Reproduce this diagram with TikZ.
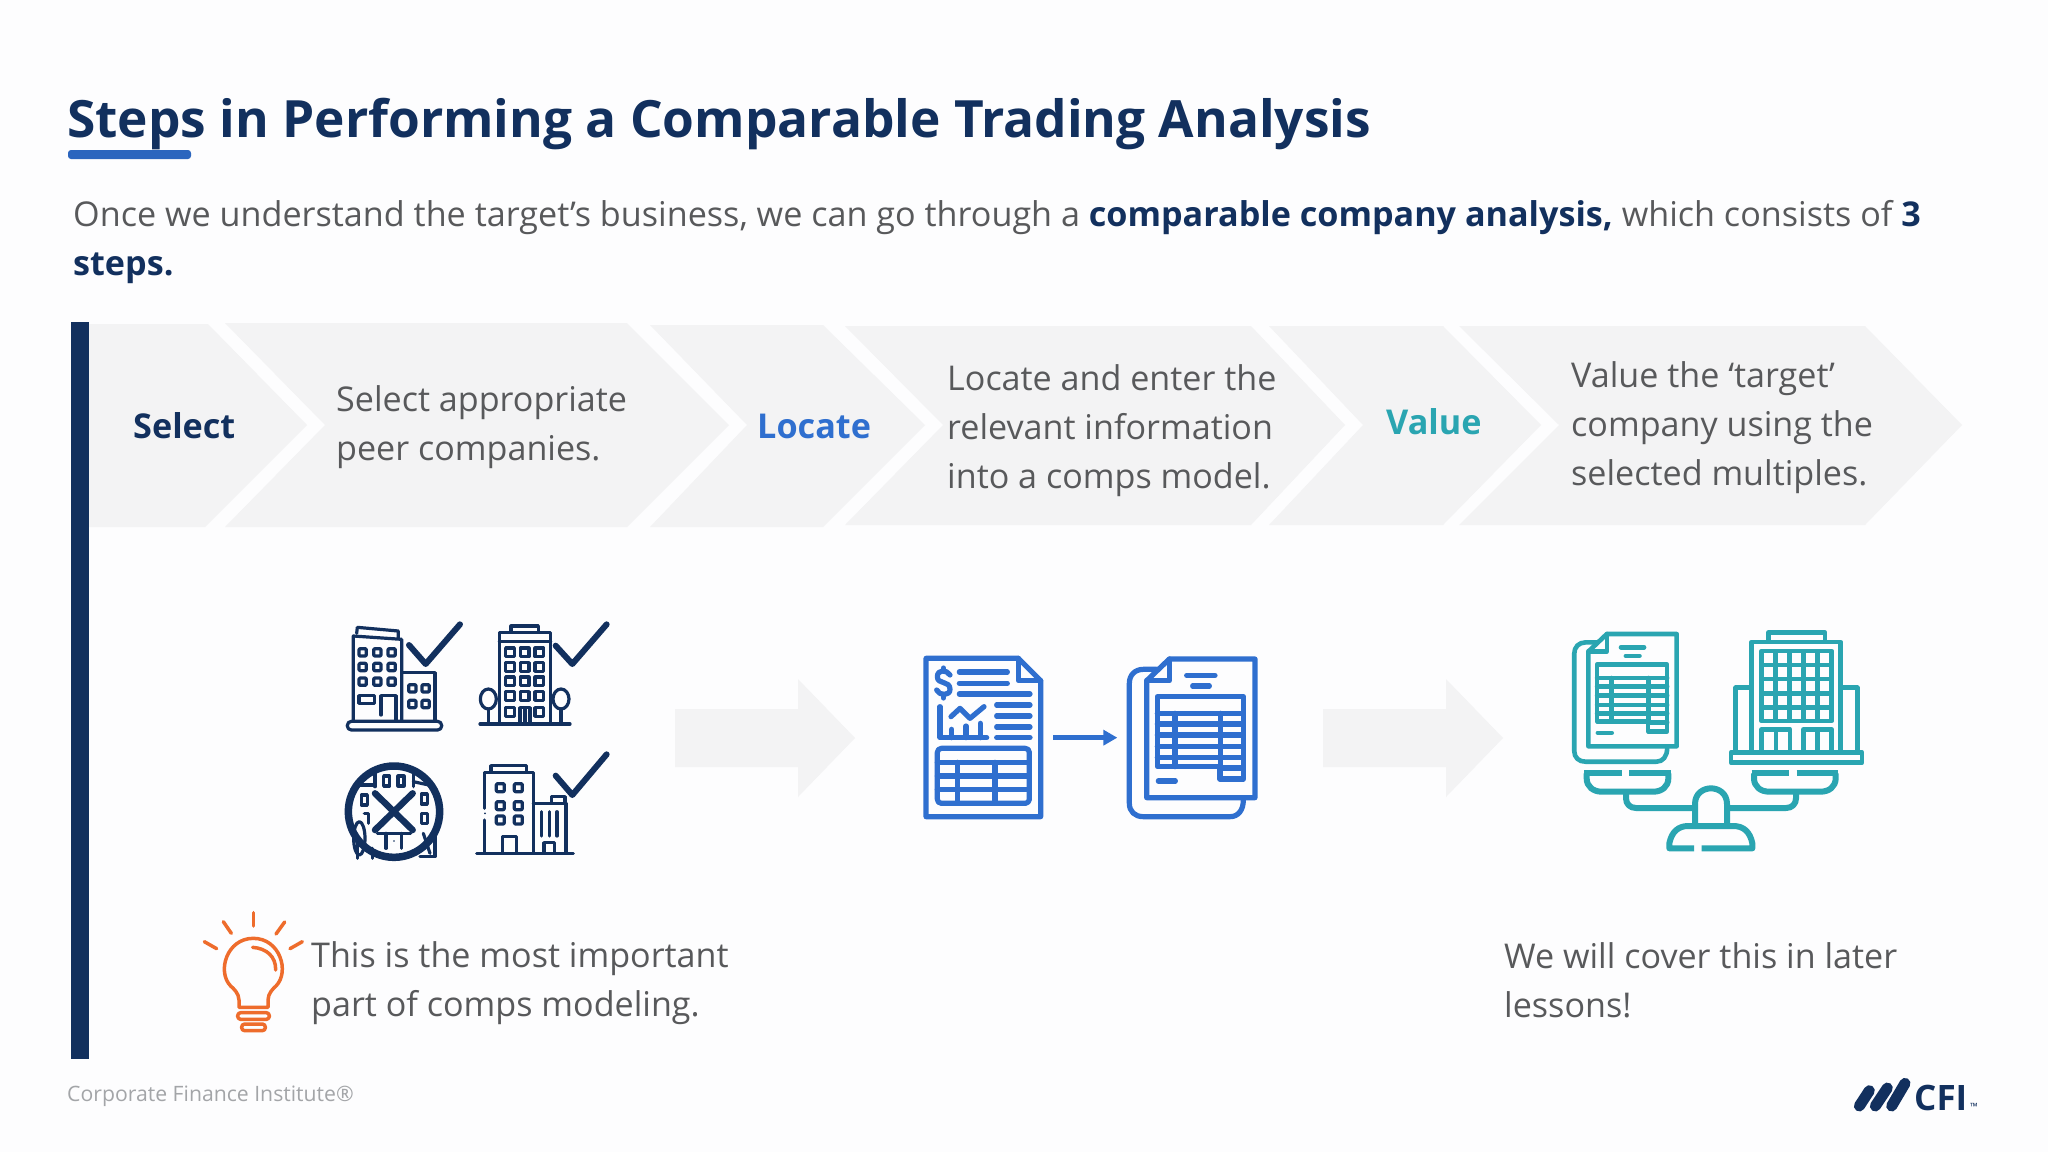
\documentclass[tikz,border=0pt]{standalone}
\usepackage{fontspec}
\setmainfont{Open Sans}
\usetikzlibrary{arrows.meta}
\definecolor{navy}{HTML}{12305E}
\definecolor{cfiblue}{HTML}{2F6FCF}
\definecolor{cfiteal}{HTML}{2AA5B1}
\definecolor{textgray}{HTML}{58595B}
\definecolor{footgray}{HTML}{A3A5A8}
\definecolor{chevgray}{HTML}{F3F3F4}
\definecolor{bulborange}{HTML}{EE6C2C}
\definecolor{pagewhite}{HTML}{FDFDFE}
\tikzset{
  body/.style={anchor=west,inner sep=0pt,align=left,text=textgray,font=\fontsize{34.1}{49}\selectfont},
  stepname/.style={anchor=base west,inner sep=0pt,font=\fontsize{34.2}{40}\selectfont\bfseries},
  icon/.style={line join=round,line cap=round}
}
\newcommand{\sheetdoc}{
  \draw (770,118) -- (730,118) .. controls (705,118) and (688,135) .. (688,160) -- (688,520)
    .. controls (688,545) and (705,560) .. (730,560) -- (990,560) .. controls (1015,560) and (1030,540) .. (1030,510);
  \draw (808,87) -- (1065,87) -- (1065,503) -- (740,503) -- (740,152) -- cycle;
  \draw (808,87) -- (808,152) -- (740,152);
  \draw (860,136) -- (945,136);
  \draw (878,168) -- (928,168);
  \draw (772,200) -- (1030,200) -- (1030,447) -- (960,447) -- (960,410) -- (772,410) -- cycle;
  \foreach \y in {250,282,315,350,382} {
    \draw (772,\y) -- (1030,\y);
  }
  \draw (960,414) -- (1030,414);
  \draw (825,250) -- (825,410);
  \draw (962,250) -- (962,410);
  \draw (775,453) -- (826,453);
}
\begin{document}
\begin{tikzpicture}[x=1pt,y=-1pt]
  \fill[pagewhite] (0,0) rectangle (2048,1152);
  \useasboundingbox (0,0) rectangle (2048,1152);

  \node[anchor=base west,inner sep=0pt,text=navy,font=\fontsize{51.4}{60}\selectfont\bfseries] (title) at (67,137)
    {Steps in Performing a Comparable Trading Analysis};
  \fill[cfiblue!85!navy,rounded corners=3pt] (68,150) rectangle (191,159);
  \node[anchor=west,inner sep=0pt,align=left,text=textgray,font=\fontsize{34.15}{49.5}\selectfont] (intro) at (73,242)
    {Once we understand the target’s business, we can go through a \textcolor{navy}{\bfseries comparable company analysis,} which consists of \textcolor{navy}{\bfseries 3}\\
     \textcolor{navy}{\bfseries steps.}};

  % chevrons
  \foreach \a/\b/\c/\d/\t/\u in {
    225/325/627/729/323/527,
    650/747/823/925/325/527,
    845/943/1251/1345/326/525,
    1269/1363/1443/1541/326/525,
    1459/1559/1865/1962/326/525} {
    \fill[chevgray] (\a,\t) -- (\c,\t) -- (\d,425) -- (\c,\u) -- (\a,\u) -- (\b,425) -- cycle;
  }
  \fill[chevgray] (89,324) -- (208,324) -- (307,425) -- (205,527) -- (89,527) -- cycle;
  \fill[navy] (71,322) rectangle (89,1059);

  \node[stepname,text=navy] (select) at (133,438) {Select};
  \node[stepname,text=cfiblue] (locate) at (757,438) {Locate};
  \node[stepname,text=cfiteal] (value) at (1386,434) {Value};
  \node[body] (selecttext) at (336,427) {Select appropriate\\peer companies.};
  \node[body] (locatetext) at (947,431) {Locate and enter the\\relevant information\\into a comps model.};
  \node[body] (valuetext) at (1571,428) {Value the ‘target’\\company using the\\selected multiples.};

  % block arrows
  \foreach \x in {675,1323} {
    \fill[chevgray] (\x,709) -- ++(123,0) -- ++(0,-30) -- ++(57,59) -- ++(-57,59) -- ++(0,-30) -- ++(-123,0) -- cycle;
  }

  % select icons
  \begin{scope}[shift={(320,600)},x=1/3*1pt,y=-1/3*1pt,navy,icon,line width=3.2pt]
    \draw (100,360) -- (100,108) -- (245,118) -- (245,360);
    \draw (110,100) -- (112,82) -- (235,93) -- (235,115);
    \foreach \x in {128,172,215} {
      \foreach \y in {157,201,245} {
        \draw[rounded corners=1pt] (\x-11,\y-11) rectangle (\x+11,\y+11);
      }
    }
    \draw[rounded corners=4pt] (82,364) rectangle (365,390);
    \draw (183,345) -- (183,287) -- (228,287) -- (228,360);
    \draw (117,287) rectangle (163,310);
    \draw (245,218) -- (345,218) -- (345,360);
    \foreach \x in {277,317} {
      \foreach \y in {265,312} {
        \draw[rounded corners=1pt] (\x-11,\y-11) rectangle (\x+11,\y+11);
      }
    }
    \draw[line width=6pt] (267,135) -- (317,192) -- (420,73);

    \draw (573,95) -- (573,78) -- (655,78) -- (655,95);
    \draw (538,370) -- (538,98) -- (692,98) -- (692,370);
    \draw (538,125) -- (692,125);
    \foreach \x in {570,614,658} {
      \foreach \y in {157,201,244,288} {
        \draw (\x-13,\y-13) rectangle (\x+13,\y+13);
      }
    }
    \draw (557,323) rectangle (583,349);
    \draw (645,323) rectangle (671,349);
    \draw (600,370) -- (600,323) -- (630,323) -- (630,370);
    \draw (615,323) -- (615,370);
    \draw (505,297) ellipse (24 and 30);
    \draw (505,327) -- (505,370);
    \draw (723,297) ellipse (24 and 30);
    \draw (723,327) -- (723,370);
    \draw (480,372) -- (750,372);
    \draw[line width=6pt] (707,137) -- (757,192) -- (860,73);

    \begin{scope}
      \clip (222,635) circle (137);
      \draw (165,500) -- (165,560);
      \draw (280,500) -- (280,560);
      \draw (95,555) -- (165,555);
      \draw (280,545) -- (350,560);
      \draw (172,700) -- (272,700);
      \draw (198,700) -- (198,745);
      \draw (245,700) -- (245,745);
      \foreach \x/\y in {200/543,243/543,133/600,313/597,313/655} {
        \draw (\x-9,\y-15) rectangle (\x+9,\y+15);
      }
      \draw (133,640) -- (145,640) -- (145,670);
      \fill (222,723) circle (2.5);
    \end{scope}
    \draw (118,715) ellipse (17 and 50);
    \draw (113,720) -- (113,775);
    \draw (158,745) -- (158,775);
    \draw (345,705) -- (345,770) -- (300,770);
    \draw (310,700) -- (330,760);
    \draw[line width=7.5pt] (222,635) circle (137);
    \draw[line width=6.5pt] (165,580) -- (278,690);
    \draw[line width=6.5pt] (278,580) -- (165,690);

    \draw (513,515) -- (513,497) -- (620,497) -- (620,515);
    \draw (493,625) -- (493,518) -- (640,518) -- (640,760);
    \draw (493,660) -- (493,760);
    \fill (495,640) circle (3);
    \foreach \x in {541,595} {
      \foreach \y in {563,617,660} {
        \draw[rounded corners=1pt] (\x-12,\y-12) rectangle (\x+12,\y+12);
      }
    }
    \draw (547,760) -- (547,710) -- (590,710) -- (590,760);
    \draw (640,610) -- (738,610) -- (738,760);
    \draw (695,610) -- (695,590) -- (735,590) -- (735,610);
    \foreach \x in {665,688,711} {
      \draw (\x,635) -- (\x,708);
    }
    \draw (672,760) -- (672,728) -- (703,728) -- (703,760);
    \draw (470,760) -- (760,760);
    \draw[line width=6pt] (707,527) -- (757,585) -- (860,463);
  \end{scope}

  % locate icons
  \begin{scope}[shift={(900,630)},x=1/3*1pt,y=-1/3*1pt,cfiblue,icon,line width=5.2pt]
    \draw (78,85) -- (355,85) -- (422,152) -- (422,560) -- (78,560) -- cycle;
    \draw (355,85) -- (355,152) -- (422,152);
    \draw (178,126) -- (322,126);
    \draw (178,160) -- (322,160);
    \draw (178,192) -- (390,192);
    \foreach \y in {225,258,291,323} {
      \draw (290,\y) -- (390,\y);
    }
    \draw (120,230) -- (120,323) -- (260,323);
    \draw (155,298) -- (155,323);
    \draw (198,288) -- (198,323);
    \draw (241,280) -- (241,323);
    \draw (153,260) -- (180,235) -- (210,265) -- (252,230);
    \draw (150,135) .. controls (140,118) and (112,118) .. (112,140)
      .. controls (112,165) and (150,150) .. (150,178)
      .. controls (150,198) and (118,198) .. (110,180);
    \draw (130,114) -- (130,122);
    \draw (130,194) -- (130,204);
    \draw[rounded corners=4pt] (112,355) rectangle (388,520);
    \foreach \y in {397,438,478} {
      \draw (112,\y) -- (388,\y);
    }
    \draw (172,397) -- (172,520);
    \draw (285,397) -- (285,520);
    \coordinate (reportend) at (460,323);
    \coordinate (tablestart) at (652,323);
    \draw[-{Triangle[length=14pt,width=15pt]},line cap=butt,line width=4.6pt] (reportend) -- (tablestart);
    \sheetdoc
  \end{scope}

  % value icons
  \begin{scope}[shift={(1387.3,610.5)},x=0.2717*1pt,y=-0.27*1pt,cfiteal,icon,line width=4.6pt]
    \sheetdoc
  \end{scope}
  \begin{scope}[shift={(1550,610)},x=1/3*1pt,y=-1/3*1pt,cfiteal,line join=round,line width=4.6pt]
    \draw (655,90) -- (655,68) -- (825,68) -- (825,90);
    \draw (605,425) -- (605,96) -- (872,96) -- (872,425);
    \draw (605,233) -- (557,233) -- (557,425);
    \draw (872,233) -- (922,233) -- (922,425);
    \draw (543,427) rectangle (936,458);
    \draw (635,123) rectangle (845,333);
    \foreach \x in {677,719,761,803} {
      \draw (\x,123) -- (\x,333);
    }
    \foreach \y in {165,207,250,292} {
      \draw (635,\y) -- (845,\y);
    }
    \foreach \x in {635,760} {
      \draw (\x,425) -- (\x,358) -- (\x+85,358) -- (\x+85,425);
      \draw (\x+43,358) -- (\x+43,425);
    }
    \foreach \x in {0,502} {
      \draw[line width=6pt] (\x+103,490) -- (\x+215,490);
      \draw[line width=6pt] (\x+238,490) -- (\x+362,490);
      \draw[line width=6pt] (\x+110,490) -- (\x+110,505) .. controls (\x+110,530) and (\x+130,545) .. (\x+155,545)
        -- (\x+310,545) .. controls (\x+335,545) and (\x+355,530) .. (\x+355,505) -- (\x+355,490);
    }
    \draw[line width=6pt] (228,548) -- (228,565) .. controls (228,582) and (240,594) .. (258,594) -- (432,594);
    \draw[line width=6pt] (535,594) -- (708,594) .. controls (726,594) and (738,582) .. (738,565) -- (738,548);
    \draw[line width=6pt] (435,645) -- (435,582) .. controls (435,550) and (460,535) .. (483,535)
      .. controls (506,535) and (531,550) .. (531,582) -- (531,645);
    \draw[line width=6pt] (432,715) -- (358,715) -- (358,700) .. controls (365,665) and (385,648) .. (415,648)
      -- (550,648) .. controls (580,648) and (600,665) .. (607,700) -- (607,715) -- (455,715);
  \end{scope}

  % bulb
  \begin{scope}[shift={(190,900)},x=1/3*1pt,y=-1/3*1pt,bulborange,icon,line width=3.5pt]
    \draw (147,322) -- (147,300) .. controls (147,280) and (130,265) .. (122,258)
      .. controls (80,215) and (110,115) .. (190,115)
      .. controls (270,115) and (300,215) .. (258,258)
      .. controls (250,265) and (234,280) .. (234,300) -- (234,322) -- cycle;
    \draw (188,142) .. controls (230,145) and (258,170) .. (257,210);
    \draw[rounded corners=3pt] (143,338) rectangle (238,358);
    \draw[rounded corners=3pt] (155,372) rectangle (226,392);
    \draw (190,38) -- (190,78);
    \draw (100,65) -- (124,100);
    \draw (284,66) -- (258,102);
    \draw (43,125) -- (80,146);
    \draw (337,125) -- (300,146);
  \end{scope}

  \node[body] (bulbtext) at (311,983) {This is the most important\\part of comps modeling.};
  \node[body] (latertext) at (1504,980) {We will cover this in later\\lessons!};
  \node[anchor=base west,inner sep=0pt,text=footgray,font=\fontsize{21.2}{25}\selectfont] (footer) at (67,1101) {Corporate Finance Institute®};

  % logo
  \begin{scope}[shift={(1830,1060)},x=1/3*1pt,y=-1/3*1pt,navy,line cap=round,line width=11pt]
    \draw (88,138) -- (118,92);
    \draw (136,138) -- (172,84);
    \draw (185,138) -- (225,70);
  \end{scope}
  \node[anchor=base west,inner sep=0pt,text=navy,font=\fontsize{35}{40}\selectfont\bfseries] (cfi) at (1914,1110) {CFI};
  \node[anchor=base west,inner sep=0pt,text=navy,font=\fontsize{10}{12}\selectfont] (tm) at (1970,1110) {™};
\end{tikzpicture}
\end{document}
